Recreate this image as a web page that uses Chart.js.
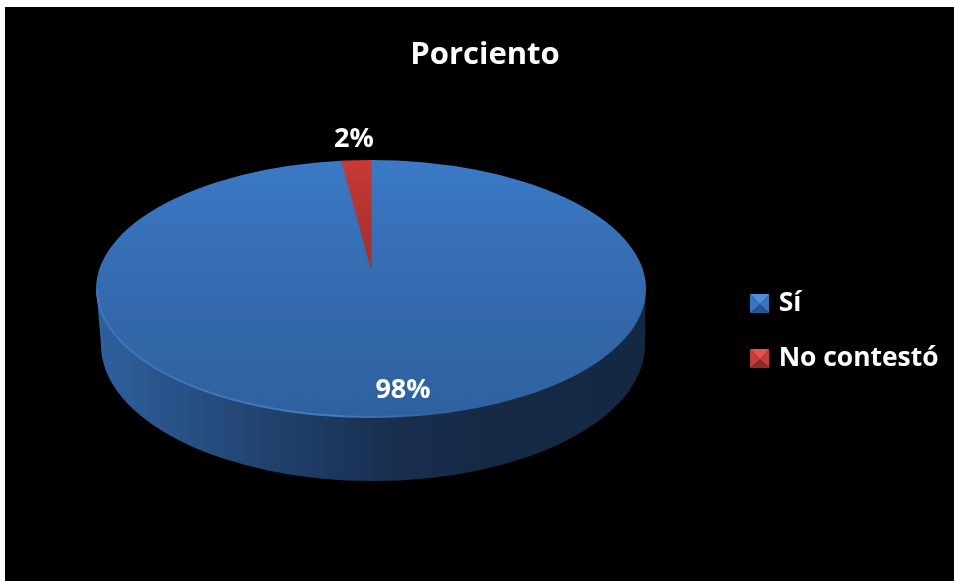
<!DOCTYPE html>
<html lang="es">
<head>
<meta charset="utf-8">
<title>Porciento</title>
<script src="https://cdn.jsdelivr.net/npm/chart.js@4"></script>
<style>
  html, body { margin: 0; background: #fff; }
  #wrap { position: absolute; left: 0; top: 0; width: 954px; height: 581px; }
</style>
</head>
<body>
<div id="wrap"><canvas id="chartPie" width="954" height="581"></canvas></div>
<script>
const categories = ['Sí', 'No contestó'];
const percentValues = [98, 2];
const chartTitle = 'Porciento';

// Slice colours, far edge to near edge of the disc
const SLICE_TOP = ['#3c7ac8', '#c93a37'];
const SLICE_BOTTOM = ['#2f619f', '#7a2522'];
// Legend marker facets: top, sides, bottom
const MARKER_FACETS = [
  ['#4f90de', '#3a74bd', '#27558f'],
  ['#e2544f', '#c43d39', '#8c2a27'],
];

// Where the black panel starts
const PANEL = { x: 5, y: 7 };
// Perspective of the disc: top/bottom of its ellipse and the projected hub
const DISC = { cx: 371, hubY: 268, top: 160, bottom: 418, left: 96, right: 646 };
// Rim below the disc
const RIM = { cx: 373, cy: 345, rx: 272, ry: 136 };
const LABEL_SPOTS = [{ x: 403, y: 390 }, { x: 354, y: 139 }];

Chart.defaults.font.family = "'Open Sans', Lato, sans-serif";
Chart.defaults.font.weight = 'bold';

function makeMarker(facets) {
  const c = document.createElement('canvas');
  c.width = c.height = 19;
  const g = c.getContext('2d');
  const tri = (color, x1, y1, x2, y2) => {
    g.fillStyle = color;
    g.beginPath();
    g.moveTo(x1, y1);
    g.lineTo(x2, y2);
    g.lineTo(9.5, 10.5);
    g.closePath();
    g.fill();
  };
  tri(facets[0], 0, 0, 19, 0);
  tri(facets[1], 0, 0, 0, 19);
  tri(facets[1], 19, 0, 19, 19);
  tri(facets[2], 0, 19, 19, 19);
  return c;
}
const markers = MARKER_FACETS.map(makeMarker);

function sliceFill(ctx) {
  const area = ctx.chart.chartArea;
  if (!area) return SLICE_TOP[ctx.dataIndex];
  const grad = ctx.chart.ctx.createLinearGradient(0, area.top, 0, area.bottom);
  grad.addColorStop(0, SLICE_TOP[ctx.dataIndex]);
  grad.addColorStop(1, SLICE_BOTTOM[ctx.dataIndex]);
  return grad;
}

// ── Black panel behind everything ────────────────────────────
const panelPlugin = {
  id: 'panel',
  beforeDraw(chart) {
    const { ctx, width, height } = chart;
    ctx.save();
    ctx.fillStyle = '#000';
    ctx.fillRect(PANEL.x, PANEL.y, width - PANEL.x, height - PANEL.y);
    ctx.restore();
  },
};

// ── Takes the flat pie and lays it down as a tilted disc ─────
const discPlugin = {
  id: 'disc',
  afterDatasetsDraw(chart) {
    const { ctx } = chart;
    const arc = chart.getDatasetMeta(0).data[0];
    const { x, y, outerRadius: r } = arc;
    const size = Math.ceil(2 * r) + 4;

    const flat = document.createElement('canvas');
    flat.width = flat.height = size;
    flat.getContext('2d').drawImage(chart.canvas, x - size / 2, y - size / 2, size, size, 0, 0, size, size);

    ctx.save();
    ctx.fillStyle = '#000';
    ctx.fillRect(x - size / 2, y - size / 2, size, size);

    // side wall
    const wall = ctx.createLinearGradient(DISC.left, 0, DISC.right, 0);
    wall.addColorStop(0, '#2f609d');
    wall.addColorStop(0.15, '#285287');
    wall.addColorStop(0.33, '#20406c');
    wall.addColorStop(0.55, '#182e4e');
    wall.addColorStop(0.7, '#162a46');
    wall.addColorStop(1, '#152842');
    ctx.fillStyle = wall;
    ctx.beginPath();
    ctx.moveTo(DISC.left + 0.5, 292);
    ctx.lineTo(RIM.cx - RIM.rx, RIM.cy);
    ctx.ellipse(RIM.cx, RIM.cy, RIM.rx, RIM.ry, 0, Math.PI, 0, true);
    ctx.lineTo(DISC.right - 0.5, 292);
    ctx.closePath();
    ctx.fill();

    // disc top, copied row by row through the perspective
    const far = DISC.hubY - DISC.top;
    const near = DISC.bottom - DISC.hubY;
    const c = (far - near) / (far + near);
    const a = far * (1 - c);
    const midY = (DISC.top + DISC.bottom) / 2;
    const rx = (DISC.right - DISC.left) / 2;
    const ry = (DISC.bottom - DISC.top) / 2;
    const sx = rx * Math.sqrt(1 - c * c);
    const rowV = (py) => {
      const d = py - DISC.hubY;
      return d / (a - c * d);
    };
    const inner = r - 2;

    ctx.save();
    ctx.beginPath();
    ctx.ellipse((DISC.left + DISC.right) / 2, midY, rx, ry, 0, 0, Math.PI * 2);
    ctx.clip();
    for (let py = DISC.top - 1; py < DISC.bottom + 1; py++) {
      const v0 = rowV(py);
      const v1 = rowV(py + 1);
      const half = sx / (1 + c * (v0 + v1) / 2);
      ctx.drawImage(flat, 0, size / 2 + v0 * inner, size, (v1 - v0) * inner,
        DISC.cx - half * size / (2 * inner), py, half * size / inner, 1);
    }
    ctx.restore();

    // pale rim light along the near left edge
    const glow = ctx.createLinearGradient(DISC.left, 0, 440, 0);
    glow.addColorStop(0, 'rgba(90,150,225,0.3)');
    glow.addColorStop(0.7, 'rgba(100,160,235,0.42)');
    glow.addColorStop(1, 'rgba(100,160,235,0)');
    ctx.strokeStyle = glow;
    ctx.lineWidth = 2;
    ctx.beginPath();
    ctx.ellipse((DISC.left + DISC.right) / 2, midY, rx - 1, ry - 1, 0, Math.PI * 0.42, Math.PI);
    ctx.stroke();

    // percentage labels
    ctx.fillStyle = '#fff';
    ctx.font = "bold 27px 'Open Sans', Lato, sans-serif";
    ctx.textAlign = 'center';
    ctx.textBaseline = 'middle';
    percentValues.forEach((v, i) => ctx.fillText(v + '%', LABEL_SPOTS[i].x, LABEL_SPOTS[i].y));
    ctx.restore();
  },
};

new Chart(document.getElementById('chartPie'), {
  type: 'pie',
  data: {
    labels: categories,
    datasets: [{
      data: percentValues,
      backgroundColor: sliceFill,
      borderColor: sliceFill,
      borderWidth: 1,
    }],
  },
  options: {
    responsive: false,
    animation: false,
    layout: { padding: { left: 21.5, right: 5.5, top: 7, bottom: 0 } },
    plugins: {
      title: {
        display: true,
        text: chartTitle,
        color: '#fff',
        font: { size: 31, weight: 'bold' },
        padding: { top: 30, bottom: 7 },
      },
      legend: {
        position: 'right',
        fullSize: false,
        labels: {
          color: '#fff',
          font: { size: 26.4, weight: 'bold' },
          padding: 28.6,
          usePointStyle: true,
          pointStyleWidth: 11,
          generateLabels(chart) {
            return Chart.overrides.pie.plugins.legend.labels.generateLabels(chart)
              .map((item, i) => ({ ...item, pointStyle: markers[i] }));
          },
        },
      },
      tooltip: { enabled: false },
    },
  },
  plugins: [panelPlugin, discPlugin],
});
</script>
</body>
</html>
